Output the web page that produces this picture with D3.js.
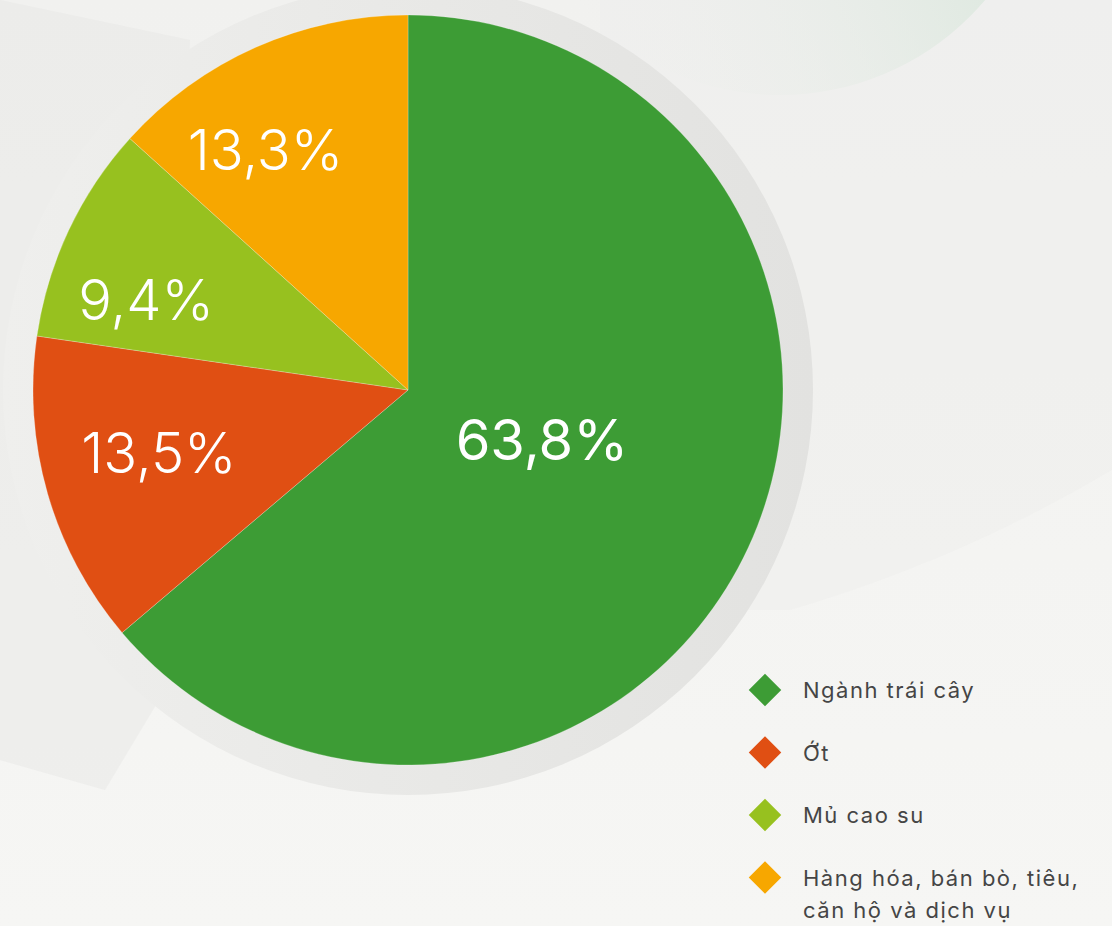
<!DOCTYPE html>
<html>
<head>
<meta charset="utf-8">
<script src="https://cdn.jsdelivr.net/npm/d3@7"></script>
<style>
  html, body { margin: 0; padding: 0; background: #f2f2f0; }
  svg { display: block; }
</style>
</head>
<body>
<svg id="chart" width="1112" height="926"></svg>
<script>
// data
const categories = ["Ngành trái cây", "Ớt", "Mủ cao su", "Hàng hóa, bán bò, tiêu, căn hộ và dịch vụ"];
const values = [63.8, 13.5, 9.4, 13.3];
const labels = ["63,8%", "13,5%", "9,4%", "13,3%"];
const colors = ["#3d9c35", "#e04f13", "#97c11f", "#f7a700"];
const legendLines = [["Ngành trái cây"], ["Ớt"], ["Mủ cao su"], ["Hàng hóa, bán bò, tiêu,", "căn hộ và dịch vụ"]];

const svg = d3.select("#chart");
const W = 1112, H = 926;
const cx = 408, cy = 390, R = 375;

// label placement: distance from centre and angle nudge (degrees)
const labelRadius = [143, 257, 277, 279];
const labelNudge = [-4.3, 1.8, -6.2, -6.8];

const defs = svg.append("defs");

const bg = defs.append("linearGradient").attr("id", "bgGrad")
    .attr("x1", 0).attr("y1", 0).attr("x2", 0).attr("y2", 1);
bg.append("stop").attr("offset", "0%").attr("stop-color", "#f1f1ef");
bg.append("stop").attr("offset", "100%").attr("stop-color", "#f6f6f4");

const ringGrad = defs.append("linearGradient").attr("id", "ringGrad")
    .attr("x1", 0).attr("y1", 0).attr("x2", 1).attr("y2", 0);
ringGrad.append("stop").attr("offset", "0%").attr("stop-color", "#efefed");
ringGrad.append("stop").attr("offset", "100%").attr("stop-color", "#e2e2e0");

const blob = defs.append("linearGradient").attr("id", "blobGrad")
    .attr("x1", 0).attr("y1", 0.6).attr("x2", 0.9).attr("y2", 0.2);
blob.append("stop").attr("offset", "0%").attr("stop-color", "#f0f0ee").attr("stop-opacity", 0);
blob.append("stop").attr("offset", "100%").attr("stop-color", "#d2e4d6");

// background and faint decoration
svg.append("rect").attr("width", W).attr("height", H).attr("fill", "url(#bgGrad)");

svg.append("path")
    .attr("d", "M0,0 L190,40 L165,690 L105,790 L0,760 Z")
    .attr("fill", "#e8e8e6").attr("opacity", 0.5);
svg.append("path")
    .attr("d", "M600,0 L1112,0 L1112,470 Q960,560 790,610 L600,610 Z")
    .attr("fill", "#eeeeec").attr("opacity", 0.6);
svg.append("circle")
    .attr("cx", 780).attr("cy", -174).attr("r", 269)
    .attr("fill", "url(#blobGrad)");

// grey halo behind the pie
svg.append("circle")
    .attr("cx", cx).attr("cy", cy).attr("r", R + 30)
    .attr("fill", "url(#ringGrad)");

const pie = d3.pie().sort(null).value(d => d);
const arcs = pie(values);
const arc = d3.arc().innerRadius(0).outerRadius(R);

const g = svg.append("g").attr("transform", `translate(${cx},${cy})`);

g.selectAll("path.slice")
    .data(arcs)
    .enter()
    .append("path")
    .attr("class", "slice")
    .attr("d", arc)
    .attr("fill", (d, i) => colors[i])
    .attr("stroke", "rgba(255,255,255,0.3)")
    .attr("stroke-width", 0.8);

g.selectAll("text.pct")
    .data(arcs)
    .enter()
    .append("text")
    .attr("class", "pct")
    .attr("transform", (d, i) => {
        const a = (d.startAngle + d.endAngle) / 2 + labelNudge[i] * Math.PI / 180;
        const x = labelRadius[i] * Math.sin(a);
        const y = -labelRadius[i] * Math.cos(a);
        return `translate(${x},${y})`;
    })
    .attr("text-anchor", "middle")
    .attr("dy", "0.36em")
    .attr("fill", "#ffffff")
    .attr("font-family", "Inter, Roboto, sans-serif")
    .attr("font-size", "56px")
    .attr("font-weight", (d, i) => i === 0 ? 400 : 300)
    .text((d, i) => labels[i]);

// legend
const legend = svg.append("g").attr("transform", "translate(765,690)");
const item = legend.selectAll("g.item")
    .data(categories)
    .enter()
    .append("g")
    .attr("class", "item")
    .attr("transform", (d, i) => `translate(0,${i * 62.5})`);

item.append("rect")
    .attr("x", -11.5).attr("y", -11.5)
    .attr("width", 23).attr("height", 23)
    .attr("transform", "rotate(45)")
    .attr("fill", (d, i) => colors[i]);

item.append("text")
    .attr("font-family", "Inter, Roboto, sans-serif")
    .attr("font-size", "22px")
    .attr("letter-spacing", "1.5px")
    .attr("fill", "#454545")
    .each(function(d, i) {
        d3.select(this).selectAll("tspan")
            .data(legendLines[i])
            .enter()
            .append("tspan")
            .attr("x", 38)
            .attr("y", (t, j) => 8 + j * 32)
            .text(t => t);
    });
</script>
</body>
</html>
